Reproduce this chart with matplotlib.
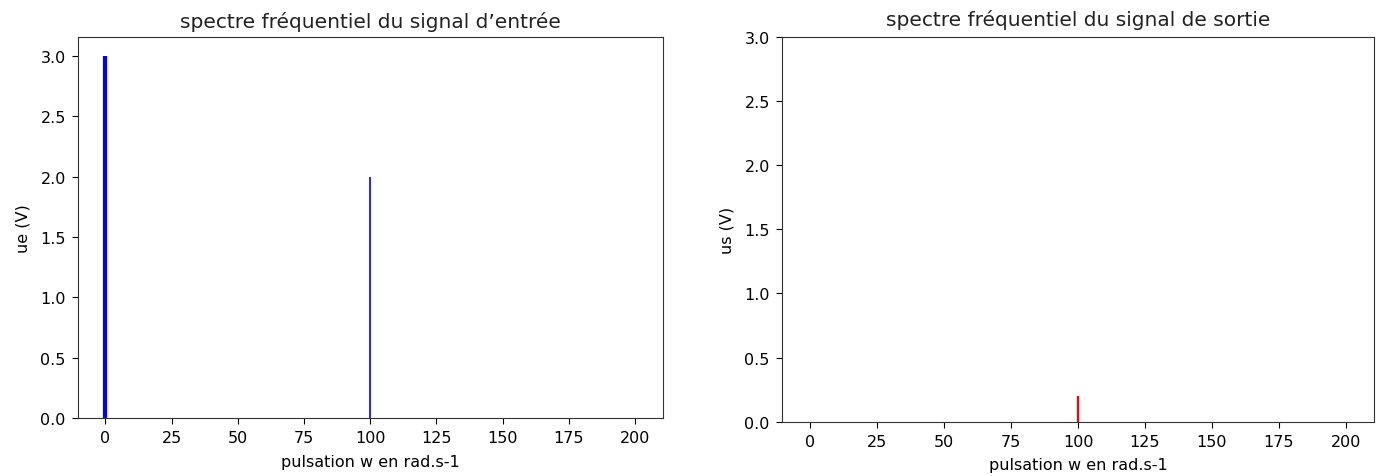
import matplotlib
matplotlib.use("Agg")
import matplotlib.pyplot as plt

# spectre du signal d'entrée
w_entree = [0, 100]
ue = [3.0, 2.0]
# spectre du signal de sortie
w_sortie = [100]
us = [0.2]

xticks = [0, 25, 50, 75, 100, 125, 150, 175, 200]
yticks = [0, 0.5, 1.0, 1.5, 2.0, 2.5, 3.0]

plt.rcParams['font.family'] = ['DejaVu Sans']
plt.rcParams['font.size'] = 11.5
plt.rcParams['xtick.major.size'] = 4.3
plt.rcParams['ytick.major.size'] = 4.3
plt.rcParams['xtick.major.pad'] = 4.5
plt.rcParams['ytick.major.pad'] = 4.5
plt.rcParams['text.color'] = '#222222'
plt.rcParams['axes.edgecolor'] = '#333333'

fig = plt.figure(figsize=(13.81, 4.77), dpi=100)

ax1 = fig.add_axes([0.0565, 0.1216, 0.4236, 0.7987])
ax1.vlines(w_entree, 0, ue, colors='b', linewidths=[3.0, 1.2])
ax1.set_xlim(-10.3, 210.5)
ax1.set_ylim(0, 3.157)
ax1.set_xticks(xticks)
ax1.set_yticks(yticks)
ax1.set_title("spectre fréquentiel du signal d’entrée", fontsize=14.5, pad=7)
ax1.set_xlabel("pulsation w en rad.s-1", labelpad=6)
ax1.set_ylabel("ue (V)", labelpad=7)

ax2 = fig.add_axes([0.5663, 0.1138, 0.4287, 0.8065])
ax2.vlines(w_sortie, 0, us, colors='r', linewidths=1.6)
ax2.set_xlim(-10.6, 210.6)
ax2.set_ylim(0, 3.0)
ax2.set_xticks(xticks)
ax2.set_yticks(yticks)
ax2.set_title("spectre fréquentiel du signal de sortie", fontsize=14.5, pad=9)
ax2.set_xlabel("pulsation w en rad.s-1", labelpad=6)
ax2.set_ylabel("us (V)", labelpad=7)

fig.savefig("out.png", dpi=100)
